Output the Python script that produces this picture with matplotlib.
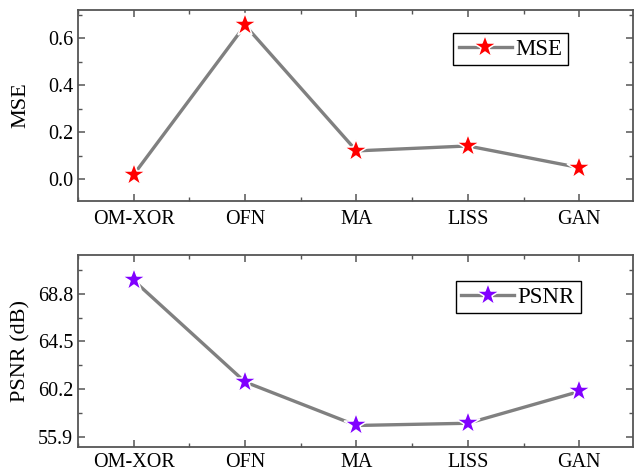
import matplotlib
matplotlib.use("Agg")
import matplotlib.pyplot as plt
from matplotlib.ticker import MultipleLocator

methods = ["OM-XOR", "OFN", "MA", "LISS", "GAN"]
mse = [0.02, 0.655, 0.121, 0.142, 0.05]
psnr = [70.0, 60.83, 56.9, 57.1, 59.97]
psnr_ticks = [55.9, 60.2, 64.5, 68.8]

plt.rcParams["font.family"] = ["Liberation Serif", "DejaVu Serif"]
plt.rcParams["font.size"] = 14.5

frame = "#555555"


def style_axis(ax, pad=7):
    for s in ax.spines.values():
        s.set_color(frame)
        s.set_linewidth(1.3)
    ax.tick_params(which="both", direction="in", top=True, right=True, color=frame)
    ax.tick_params(which="major", length=5, width=1.1, labelsize=14.5)
    ax.tick_params(which="minor", length=3, width=1.0)
    ax.tick_params(axis="x", which="major", pad=pad)
    ax.set_xlim(-0.5, 4.48)
    ax.set_xticks(range(len(methods)))
    ax.set_xticklabels(methods)
    ax.xaxis.set_minor_locator(MultipleLocator(0.5))


def add_legend(ax, anchor):
    ax.legend(loc="upper right", bbox_to_anchor=anchor, borderaxespad=0,
              frameon=True, fancybox=False, edgecolor="black", framealpha=1,
              handlelength=2.3, handletextpad=0.15, borderpad=0.25,
              fontsize=16.5)


def main():
    fig = plt.figure(figsize=(6.34, 4.73), dpi=100)
    ax1 = fig.add_axes([0.123, 0.576, 0.875, 0.403])
    ax2 = fig.add_axes([0.123, 0.056, 0.875, 0.405])

    x = range(len(methods))

    # MSE panel (white marker edge gives the small gap around each star)
    ax1.plot(x, mse, color="#808080", lw=2.4, marker="*", ms=17.5,
             mfc="red", mec="white", mew=1.1, label="MSE")
    style_axis(ax1)
    ax1.set_ylim(-0.09, 0.72)
    ax1.yaxis.set_major_locator(MultipleLocator(0.2))
    ax1.yaxis.set_minor_locator(MultipleLocator(0.1))
    ax1.yaxis.set_major_formatter(plt.FormatStrFormatter("%.1f"))
    ax1.set_ylabel("MSE", fontsize=16)
    add_legend(ax1, (0.883, 0.879))

    # PSNR panel
    ax2.plot(x, psnr, color="#808080", lw=2.4, marker="*", ms=17.5,
             mfc="#8000FF", mec="white", mew=1.1, label="PSNR")
    style_axis(ax2, pad=5)
    ax2.set_ylim(55.0, 72.3)
    ax2.set_yticks(psnr_ticks)
    ax2.yaxis.set_minor_locator(MultipleLocator(2.15))
    ax2.yaxis.set_major_formatter(plt.FormatStrFormatter("%.1f"))
    ax2.set_ylabel("PSNR (dB)", fontsize=16)
    add_legend(ax2, (0.906, 0.864))

    for ax in (ax1, ax2):
        ax.yaxis.set_label_coords(-0.085, 0.5)

    fig.savefig("out.png", dpi=100)


if __name__ == "__main__":
    main()
